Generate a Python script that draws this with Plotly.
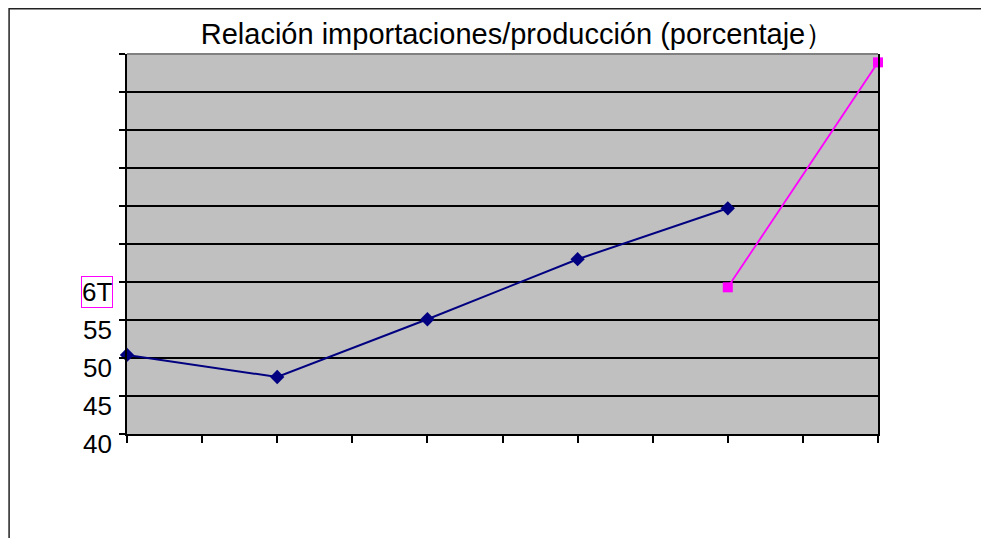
import plotly.graph_objects as go

# Data
periods = [0, 1, 2, 3, 4, 5]
serie_azul = [50.4, 47.5, 55.1, 63.0, 69.7, None]
serie_rosa = [None, None, None, None, 59.3, 88.9]
y_tickvals = [40, 45, 50, 55, 60, 65, 70, 75, 80, 85, 90]
y_labels = ["40", "45", "50", "55", "6T"]
y_label_values = [40, 45, 50, 55, 60]
boxed_label = "6T"
title_text = "Relación importaciones/producción (porcentaje）"

FONT = "Liberation Sans, Arial, sans-serif"

fig = go.Figure()
fig.add_trace(go.Scatter(
    x=periods, y=serie_azul, mode="lines+markers",
    line=dict(color="#000080", width=2),
    marker=dict(symbol="diamond", size=11, color="#000080"),
    connectgaps=False, showlegend=False, hoverinfo="skip", cliponaxis=False))
fig.add_trace(go.Scatter(
    x=periods, y=serie_rosa, mode="lines+markers",
    line=dict(color="#FF00FF", width=1.8),
    marker=dict(symbol="square", size=10, color="#FF00FF"),
    connectgaps=False, showlegend=False, hoverinfo="skip", cliponaxis=False))

fig.update_layout(
    width=981, height=530,
    margin=dict(l=119, r=111, t=46, b=104),
    paper_bgcolor="white", plot_bgcolor="#C0C0C0",
    font=dict(family=FONT, color="black"),
    title=dict(text=title_text, x=(517.5 - 8) / 981, xanchor="center",
               y=0.951, yanchor="middle",
               font=dict(family=FONT, size=29, color="black")),
)
fig.update_xaxes(
    range=[0, 5], tickmode="linear", tick0=0, dtick=0.5,
    showticklabels=False, showgrid=False, zeroline=False,
    ticks="outside", ticklen=7, tickwidth=1.5, tickcolor="black",
    showline=True, linecolor="black", linewidth=2)
fig.update_yaxes(
    range=[40, 90], tickmode="array", tickvals=y_tickvals,
    showticklabels=False,
    showgrid=True, gridcolor="black", gridwidth=1.8, zeroline=False,
    ticks="outside", ticklen=6, tickwidth=1.5, tickcolor="black",
    showline=True, linecolor="black", linewidth=2, mirror=True)

# grey top edge of plot area
fig.add_shape(type="line", xref="paper", yref="paper", x0=0, x1=1, y0=1, y1=1,
              line=dict(color="#808080", width=2))
# outer chart border
fig.add_shape(type="rect", xref="paper", yref="paper",
              x0=-0.157, x1=1.2, y0=-0.35, y1=1 + 45.2 / 380,
              line=dict(color="#222222", width=1.5), layer="above")

for lab, val in zip(y_labels, y_label_values):
    boxed = lab == boxed_label
    fig.add_annotation(text=lab, x=-0.0186, xref="paper", xanchor="right",
                       y=val, yref="y", yanchor="top", yshift=6,
                       showarrow=False, font=dict(family=FONT, size=26, color="black"),
                       bordercolor="#FF00FF" if boxed else "rgba(0,0,0,0)",
                       borderwidth=1, borderpad=0)

fig.write_html("out.html")
